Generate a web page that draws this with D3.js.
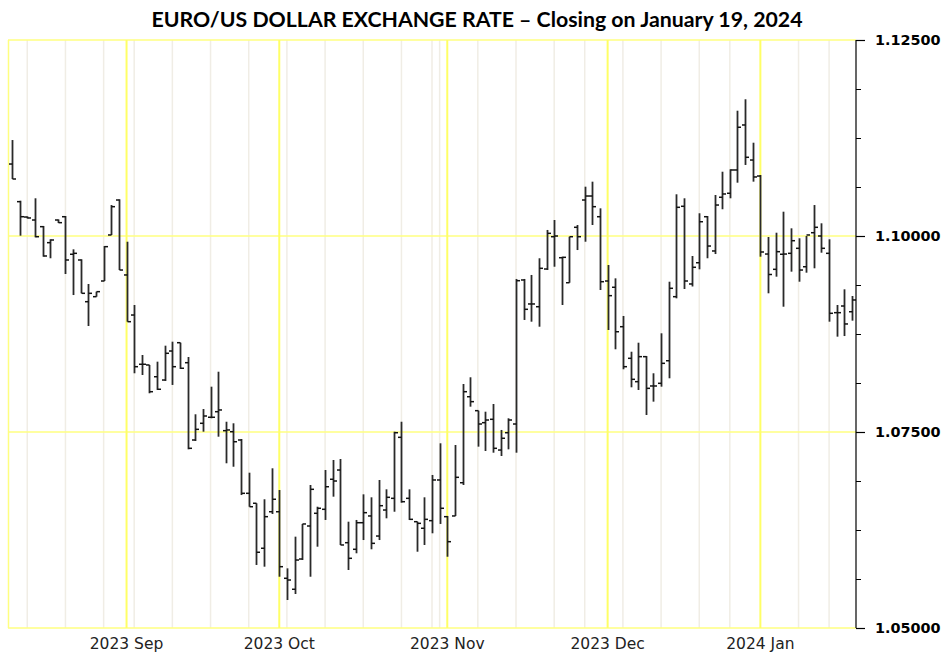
<!DOCTYPE html>
<html><head><meta charset="utf-8">
<script src="https://cdn.jsdelivr.net/npm/d3@7"></script>
<style>html,body{margin:0;padding:0;background:#fff;}svg{display:block;}</style>
</head><body>
<svg id="chart" width="944" height="653"></svg>
<script>
const dates = [
"2023-08-11","2023-08-14","2023-08-15","2023-08-16","2023-08-17","2023-08-18","2023-08-21","2023-08-22","2023-08-23","2023-08-24","2023-08-25","2023-08-28","2023-08-29","2023-08-30","2023-08-31",
"2023-09-01","2023-09-05","2023-09-06","2023-09-07","2023-09-08","2023-09-11","2023-09-12","2023-09-13","2023-09-14","2023-09-15","2023-09-18","2023-09-19","2023-09-20","2023-09-21","2023-09-22","2023-09-25","2023-09-26","2023-09-27","2023-09-28","2023-09-29",
"2023-10-02","2023-10-03","2023-10-04","2023-10-05","2023-10-06","2023-10-09","2023-10-10","2023-10-11","2023-10-12","2023-10-13","2023-10-16","2023-10-17","2023-10-18","2023-10-19","2023-10-20","2023-10-23","2023-10-24","2023-10-25","2023-10-26","2023-10-27","2023-10-30","2023-10-31",
"2023-11-01","2023-11-02","2023-11-03","2023-11-06","2023-11-07","2023-11-08","2023-11-09","2023-11-10","2023-11-13","2023-11-14","2023-11-15","2023-11-16","2023-11-17","2023-11-20","2023-11-21","2023-11-22","2023-11-24","2023-11-27","2023-11-28","2023-11-29","2023-11-30",
"2023-12-01","2023-12-04","2023-12-05","2023-12-06","2023-12-07","2023-12-08","2023-12-11","2023-12-12","2023-12-13","2023-12-14","2023-12-15","2023-12-18","2023-12-19","2023-12-20","2023-12-21","2023-12-22","2023-12-26","2023-12-27","2023-12-28","2023-12-29",
"2024-01-02","2024-01-03","2024-01-04","2024-01-05","2024-01-08","2024-01-09","2024-01-10","2024-01-11","2024-01-12","2024-01-16","2024-01-17","2024-01-18","2024-01-19"
];
const openV = [
1.10918,1.10438,1.10242,1.10204,1.10119,1.09915,1.10204,1.10246,1.09767,1.09694,1.09162,1.09226,1.09426,1.10013,1.10459,
1.09503,1.08992,1.08364,1.08355,1.08205,1.08163,1.08533,1.08639,1.08384,1.07398,1.07611,1.07688,1.07759,1.07517,1.07504,1.07398,1.06718,1.06591,1.06017,1.06483,
1.06483,1.05634,1.05494,1.05880,1.06301,1.06463,1.06514,1.06897,1.07015,1.06088,1.06004,1.06343,1.06429,1.06173,1.06505,1.06654,1.07432,1.06654,1.06356,1.06272,1.06369,1.06888,
1.06420,1.06429,1.06853,1.07950,1.07772,1.07619,1.07662,1.07270,1.07491,1.07602,1.09439,1.09133,1.09098,1.09579,1.09991,1.09723,1.09404,1.10111,1.10459,1.10510,1.10246,
1.09426,1.09346,1.08843,1.08440,1.08142,1.08461,1.08087,1.08121,1.08409,1.09226,1.10379,1.09388,1.09659,1.10246,1.09809,1.10494,1.10545,1.10842,1.11416,1.10969,
1.10765,1.09770,1.09575,1.09767,1.09779,1.09843,1.09608,1.10042,1.10000,1.09779,1.09022,1.09107,1.09034
];
const highV = [
1.11224,1.10450,1.10249,1.10481,1.10128,1.09958,1.10211,1.10255,1.09830,1.09703,1.09388,1.09290,1.09872,1.10395,1.10468,
1.09927,1.09120,1.08482,1.08355,1.08397,1.08601,1.08652,1.08639,1.08457,1.07726,1.07793,1.08078,1.08269,1.07631,1.07611,1.07411,1.06981,1.06591,1.06642,1.07037,
1.06760,1.05761,1.06165,1.06327,1.06824,1.06547,1.07015,1.07143,1.07156,1.06356,1.06378,1.06705,1.06667,1.06888,1.06769,1.07504,1.07631,1.06769,1.06356,1.06667,1.06952,1.07356,
1.06429,1.07334,1.08112,1.08198,1.07772,1.07759,1.07857,1.07526,1.07675,1.09452,1.09452,1.09503,1.09716,1.10077,1.10204,1.09736,1.09991,1.10140,1.10629,1.10693,1.10353,
1.09630,1.09460,1.08980,1.08524,1.08639,1.08469,1.08249,1.08759,1.09417,1.10532,1.10481,1.09745,1.10290,1.10255,1.10523,1.10820,1.10851,1.11598,1.11744,1.11190,
1.10778,1.09987,1.10042,1.10310,1.10098,1.09971,1.10000,1.10395,1.10162,1.09958,1.09120,1.09320,1.09235
];
const lowV = [
1.10727,1.10004,1.10223,1.09983,1.09736,1.09716,1.10166,1.09515,1.09247,1.09269,1.08852,1.09226,1.09426,1.10013,1.09566,
1.08907,1.08249,1.08227,1.07994,1.08036,1.08151,1.08100,1.08304,1.07279,1.07385,1.07504,1.07675,1.07440,1.07101,1.07057,1.06696,1.06547,1.05804,1.05782,1.06454,
1.05654,1.05357,1.05434,1.05867,1.05654,1.06037,1.06378,1.06675,1.06059,1.05740,1.05953,1.06122,1.06004,1.06122,1.06399,1.06483,1.06598,1.06378,1.05973,1.06059,1.06208,1.06327,
1.05909,1.06429,1.06824,1.07823,1.07313,1.07258,1.07236,1.07194,1.07279,1.07236,1.08929,1.08907,1.08843,1.09566,1.09608,1.09120,1.09404,1.09821,1.09927,1.10140,1.09311,
1.08801,1.08555,1.08300,1.08070,1.08036,1.07717,1.07887,1.08078,1.08185,1.09205,1.09324,1.09356,1.09575,1.09716,1.09770,1.10341,1.10481,1.10680,1.10906,1.10693,
1.09736,1.09269,1.09481,1.09098,1.09545,1.09417,1.09532,1.09588,1.09787,1.08907,1.08716,1.08724,1.08920
];
const closeV = [
1.10727,1.10246,1.10230,1.09991,1.09745,1.09949,1.10170,1.09694,1.09779,1.09269,1.09269,1.09290,1.09864,1.10374,1.09566,
1.08907,1.08333,1.08364,1.08014,1.08045,1.08504,1.08333,1.08313,1.07292,1.07534,1.07704,1.07688,1.07781,1.07526,1.07376,1.06718,1.06547,1.05966,1.06420,1.06642,
1.05782,1.05612,1.05867,1.06327,1.06769,1.06527,1.06802,1.06875,1.06059,1.05889,1.06343,1.06471,1.06080,1.06560,1.06667,1.07491,1.06611,1.06386,1.06335,1.06386,1.06888,1.06527,
1.06101,1.06922,1.08014,1.07887,1.07602,1.07653,1.07292,1.07420,1.07653,1.09430,1.09065,1.09133,1.09588,1.10034,1.10000,1.09728,1.09991,1.09991,1.10510,1.10374,1.09417,
1.09239,1.08779,1.08333,1.08172,1.08461,1.08057,1.08087,1.08376,1.09333,1.10366,1.09426,1.09601,1.10182,1.09872,1.10395,1.10536,1.10842,1.11387,1.11004,1.10753,
1.09796,1.09509,1.09800,1.09770,1.09940,1.09566,1.10013,1.10111,1.09843,1.09014,1.09022,1.08878,1.09184
];
const monthDates = ["2023-09-01","2023-10-02","2023-11-01","2023-12-01","2024-01-02"];
const monthLabels = ["2023 Sep","2023 Oct","2023 Nov","2023 Dec","2024 Jan"];
const weekDates = ["2023-08-15","2023-08-22","2023-08-29","2023-09-05","2023-09-12","2023-09-19","2023-09-26","2023-10-03","2023-10-10","2023-10-17","2023-10-24","2023-10-30","2023-10-31","2023-11-07","2023-11-14","2023-11-21","2023-11-28","2023-12-05","2023-12-12","2023-12-19","2023-12-26","2024-01-09","2024-01-16"];
const yMajor = [1.05, 1.075, 1.10, 1.125];
const yLabels = ["1.05000","1.07500","1.10000","1.12500"];
const yMinorStep = 0.00625;
const title = "EURO/US DOLLAR EXCHANGE RATE \u2013 Closing on January 19, 2024";

const svg = d3.select("#chart");
const plot = {left: 8, right: 856, top: 40, bottom: 628};
const x = d3.scalePoint().domain(dates).range([12, 852]);
const y = d3.scaleLinear().domain([1.05, 1.125]).range([plot.bottom, plot.top]);

// weekly light grid
svg.append("g").selectAll("line").data(weekDates).join("line")
  .attr("x1", d => x(d)).attr("x2", d => x(d))
  .attr("y1", plot.top).attr("y2", plot.bottom)
  .attr("stroke", "#f0ede5").attr("stroke-width", 1.5);

// horizontal yellow grid
svg.append("g").selectAll("line").data(yMajor).join("line")
  .attr("x1", plot.left).attr("x2", plot.right)
  .attr("y1", d => y(d)).attr("y2", d => y(d))
  .attr("stroke", "#ffff80").attr("stroke-width", 1.5);

// left edge
svg.append("line").attr("x1", plot.left+0.5).attr("x2", plot.left+0.5)
  .attr("y1", plot.top).attr("y2", plot.bottom)
  .attr("stroke", "#ffff80").attr("stroke-width", 1.5);

// month yellow lines
svg.append("g").selectAll("line").data(monthDates).join("line")
  .attr("x1", d => x(d)).attr("x2", d => x(d))
  .attr("y1", plot.top).attr("y2", plot.bottom)
  .attr("stroke", "#ffff66").attr("stroke-width", 2);

// OHLC bars
const bars = svg.append("g");
dates.forEach((d, i) => {
  const cx = Math.round(x(d)) + 0.5;
  bars.append("line").attr("x1", cx).attr("x2", cx)
    .attr("y1", y(highV[i])).attr("y2", y(lowV[i]))
    .attr("stroke", "#2a2a2a").attr("stroke-width", 1.8);
  bars.append("line").attr("x1", cx - 3.5).attr("x2", cx)
    .attr("y1", y(openV[i])).attr("y2", y(openV[i]))
    .attr("stroke", "#111").attr("stroke-width", 1.5);
  bars.append("line").attr("x1", cx).attr("x2", cx + 3.5)
    .attr("y1", y(closeV[i])).attr("y2", y(closeV[i]))
    .attr("stroke", "#111").attr("stroke-width", 1.5);
});

// right axis
const minorTicks = d3.range(0, 13).map(k => 1.05 + k * yMinorStep);
const axis = d3.axisRight(y).tickValues(minorTicks).tickSize(5).tickFormat("");
const gAx = svg.append("g").attr("transform", `translate(${plot.right},0)`).call(axis);
gAx.select(".domain").attr("stroke", "#000").attr("stroke-width", 1.2).attr("d", `M0,${plot.top}V${plot.bottom}`);
gAx.selectAll(".tick line").attr("stroke", "#000");
const major = d3.axisRight(y).tickValues(yMajor).tickSize(9)
  .tickFormat((d, i) => yLabels[i]).tickPadding(10);
const gMaj = svg.append("g").attr("transform", `translate(${plot.right},0)`).call(major);
gMaj.select(".domain").remove();
gMaj.selectAll(".tick line").attr("stroke", "#000").attr("stroke-width", 1.2);
gMaj.selectAll(".tick text").attr("font-family", "DejaVu Sans, Verdana, sans-serif")
  .attr("font-weight", "bold").attr("font-size", 14.4).attr("fill", "#000");

// month labels
svg.append("g").selectAll("text").data(monthDates).join("text")
  .attr("x", d => x(d)).attr("y", 649)
  .attr("text-anchor", "middle")
  .attr("font-family", "DejaVu Sans, Verdana, sans-serif")
  .attr("font-size", 15.5).attr("fill", "#222")
  .text((d, i) => monthLabels[i]);

// title
svg.append("text").attr("x", 477).attr("y", 27)
  .attr("text-anchor", "middle")
  .attr("font-family", "Lato, 'Open Sans', sans-serif")
  .attr("font-weight", "bold").attr("font-size", 21)
  .attr("textLength", 651).attr("lengthAdjust", "spacingAndGlyphs")
  .attr("fill", "#000")
  .text(title);
</script>
</body></html>
